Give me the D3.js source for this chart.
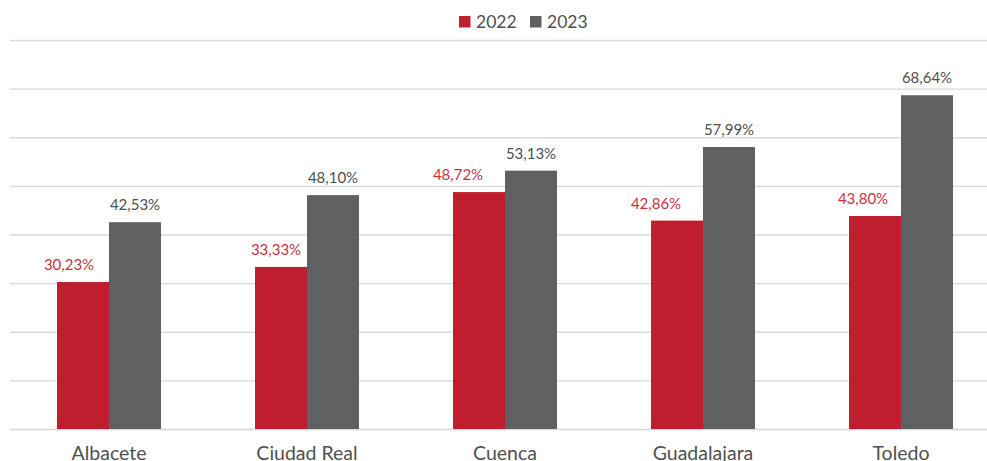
<!DOCTYPE html>
<html>
<head>
<meta charset="utf-8">
<script src="https://cdn.jsdelivr.net/npm/d3@7"></script>
<style>
  body { margin: 0; background: #fff; }
  svg { display: block; font-family: Lato, "Open Sans", sans-serif; }
</style>
</head>
<body>
<svg id="chart" width="987" height="461"></svg>
<script>
// data
const categories = ['Albacete', 'Ciudad Real', 'Cuenca', 'Guadalajara', 'Toledo'];
const seriesNames = ['2022', '2023'];
const values2022 = [30.23, 33.33, 48.72, 42.86, 43.80];
const values2023 = [42.53, 48.10, 53.13, 57.99, 68.64];
const gridTicks = [0, 10, 20, 30, 40, 50, 60, 70, 80];

// the 2022 labels were nudged left by hand in the original
const label2022Shift = [-14, -5, -21, -21, -12];

const colors = { '2022': '#BE1E2D', '2023': '#5F6062' };
const labelColors = { '2022': '#C8323F', '2023': '#505050' };

const svg = d3.select('#chart');
const W = 987;
const plotLeft = 10, plotRight = 1000, plotTop = 40, plotBottom = 429;

const x = d3.scaleBand().domain(categories).range([plotLeft, plotRight]).paddingInner(0).paddingOuter(0);
const xs = d3.scaleBand().domain(seriesNames).range([0, x.bandwidth()]).paddingInner(0).paddingOuter(0.904);
const y = d3.scaleLinear().domain([0, 80]).range([plotBottom, plotTop]);

// gridlines
svg.append('g').selectAll('line').data(gridTicks).join('line')
  .attr('x1', plotLeft).attr('x2', W)
  .attr('y1', d => y(d) + 0.5).attr('y2', d => y(d) + 0.5)
  .attr('stroke', '#D9D9D9').attr('stroke-width', 1.3);

const rows = categories.map((c, i) => ({ cat: c, vals: [
  { s: '2022', v: values2022[i], dx: label2022Shift[i] },
  { s: '2023', v: values2023[i], dx: 0 }] }));

const groups = svg.append('g').selectAll('g').data(rows).join('g')
  .attr('transform', d => `translate(${x(d.cat)},0)`);

groups.selectAll('rect').data(d => d.vals).join('rect')
  .attr('x', d => xs(d.s)).attr('width', xs.bandwidth())
  .attr('y', d => y(d.v)).attr('height', d => y(0) - y(d.v))
  .attr('fill', d => colors[d.s]);

groups.selectAll('text.val').data(d => d.vals).join('text')
  .attr('class', 'val')
  .attr('x', d => xs(d.s) + xs.bandwidth() / 2 + d.dx)
  .attr('y', d => y(d.v) - 12)
  .attr('text-anchor', 'middle')
  .attr('font-size', 15)
  .attr('fill', d => labelColors[d.s])
  .text(d => d.v.toFixed(2).replace('.', ',') + '%');

// category labels
svg.append('g').selectAll('text').data(categories).join('text')
  .attr('x', d => x(d) + x.bandwidth() / 2)
  .attr('y', 460)
  .attr('text-anchor', 'middle')
  .attr('font-size', 19.5)
  .attr('fill', '#505050')
  .text(d => d);

// legend
const legend = svg.append('g');
const legendX = [459, 530];
seriesNames.forEach((s, i) => {
  legend.append('rect').attr('x', legendX[i]).attr('y', 16).attr('width', 11.5).attr('height', 11.5)
    .attr('fill', colors[s]);
  legend.append('text').attr('x', legendX[i] + 17).attr('y', 27.5)
    .attr('font-size', 17.5).attr('fill', '#505050').text(s);
});
</script>
</body>
</html>
